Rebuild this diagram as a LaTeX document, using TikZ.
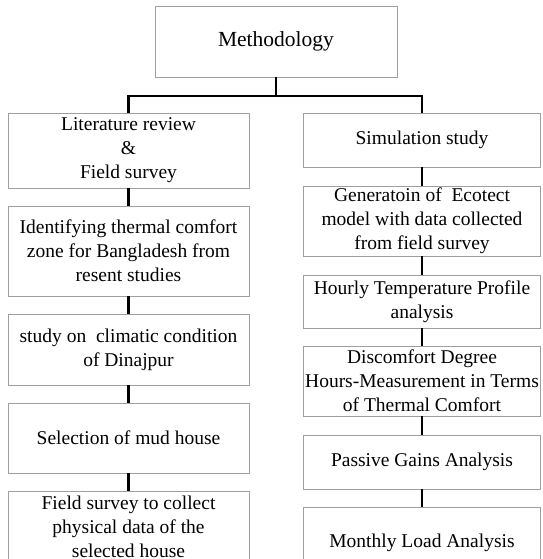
\documentclass[tikz,border=0pt]{standalone}
\usepackage{fontspec}
\setmainfont{Liberation Serif}
\usepackage{tikz}

\begin{document}
\begin{tikzpicture}[x=1pt,y=-1pt,
  box/.style={draw=gray!75, line width=0.8pt, inner sep=0pt, align=center,
    font=\fontsize{19.5}{24}\selectfont},
  lbox/.style={box, minimum width=241pt},
  rbox/.style={box, minimum width=237pt},
  link/.style={line width=2.6pt}]
\useasboundingbox (0,0) rectangle (542,559);
\node [box, minimum width=242pt, minimum height=71pt, font=\fontsize{21.5}{26}\selectfont] (meth) at (276,41.5) {Methodology};
% left column
\node [lbox, minimum height=75pt] (lit) at (128.5,150.5) {Literature review\\ \&\\ Field survey};
\node [lbox, minimum height=90pt] (zone) at (128.5,251) {Identifying thermal comfort\\ zone for Bangladesh from\\ resent studies};
\node [lbox, minimum height=71pt] (clim) at (128.5,349.5) {study on~ climatic condition\\ of Dinajpur};
\node [lbox, minimum height=70pt] (mud) at (128.5,438) {Selection of mud house};
\node [lbox, minimum height=72pt] (field) at (128.5,527) {Field survey to collect\\ physical data of the\\ selected house};
% right column
\node [rbox, minimum height=54pt] (sim) at (422,140) {Simulation study};
\node [rbox, minimum height=70pt] (eco) at (422,221) {Generatoin of~ Ecotect\\ model with data collected\\ from field survey};
\node [rbox, minimum height=53pt] (hour) at (422,301.5) {Hourly Temperature Profile\\ analysis};
\node [rbox, minimum height=70pt] (disc) at (422,381) {Discomfort Degree\\ Hours-Measurement in Terms\\ of Thermal Comfort};
\node [rbox, minimum height=54pt] (pass) at (422,462) {Passive Gains Analysis};
\node [rbox, minimum height=72pt] (load) at (422,543) {Monthly Load Analysis};
% connectors
\coordinate (bus) at (276,96);
\draw [link] (meth.south) -- (bus);
\draw [link] (lit.north) |- (bus) -| (sim.north);
\draw [link] (lit) -- (zone);
\draw [link] (zone) -- (clim);
\draw [link] (clim) -- (mud);
\draw [link] (mud) -- (field);
\draw [link] (sim) -- (eco);
\draw [link] (eco) -- (hour);
\draw [link] (hour) -- (disc);
\draw [link] (disc) -- (pass);
\draw [link] (pass) -- (load);
\end{tikzpicture}
\end{document}
